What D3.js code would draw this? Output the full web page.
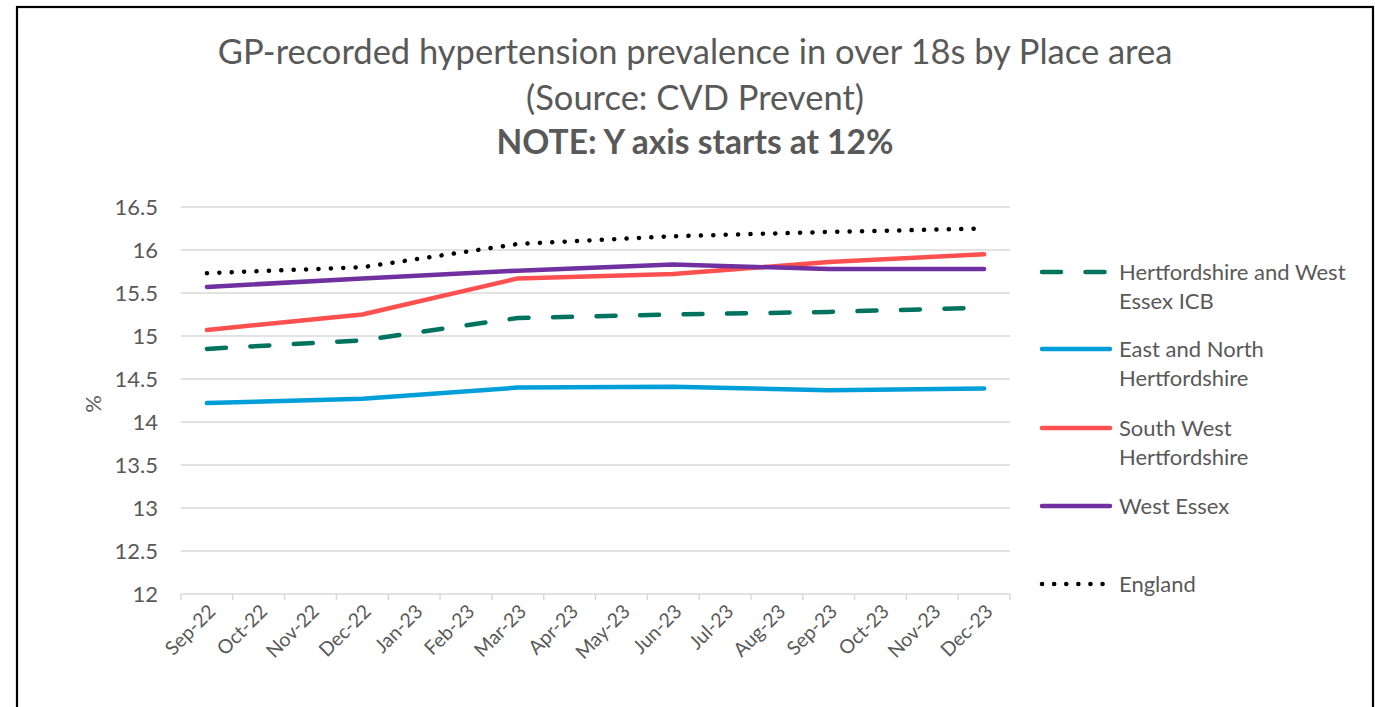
<!DOCTYPE html>
<html><head><meta charset="utf-8">
<script src="https://cdn.jsdelivr.net/npm/d3@7"></script>
<style>
html,body{margin:0;padding:0;background:#fff;}
svg{display:block;font-family:Lato,"Open Sans",sans-serif;}
</style></head>
<body>
<svg id="chart" width="1375" height="707"></svg>
<script>
const months = ["Sep-22","Oct-22","Nov-22","Dec-22","Jan-23","Feb-23","Mar-23","Apr-23","May-23","Jun-23","Jul-23","Aug-23","Sep-23","Oct-23","Nov-23","Dec-23"];
const dataMonths = ["Sep-22","Dec-22","Mar-23","Jun-23","Sep-23","Dec-23"];
const yTicks = [12,12.5,13,13.5,14,14.5,15,15.5,16,16.5];

const icb      = [14.85,14.95,15.21,15.25,15.28,15.33];
const eastNorth= [14.22,14.27,14.40,14.41,14.37,14.39];
const southWest= [15.07,15.25,15.67,15.72,15.86,15.95];
const westEssex= [15.57,15.67,15.76,15.83,15.78,15.78];
const england  = [15.73,15.80,16.07,16.16,16.21,16.25];

const seriesNames = ["Hertfordshire and West Essex ICB","East and North Hertfordshire","South West Hertfordshire","West Essex","England"];
const legendLines = [["Hertfordshire and West","Essex ICB"],["East and North","Hertfordshire"],["South West","Hertfordshire"],["West Essex"],["England"]];
const seriesValues = [icb,eastNorth,southWest,westEssex,england];
const seriesColors = ["#00735F","#009FDA","#FF5050","#7030A0","#000000"];

const styles = [
  {dash:"19,24.5", cap:"round"},
  {dash:null, cap:"round"},
  {dash:null, cap:"round"},
  {dash:null, cap:"round"},
  {dash:"0.1,12.3", cap:"round"}
];

const svg = d3.select("#chart");
const textCol = "#595959";

// border
svg.append("rect").attr("x",17).attr("y",7).attr("width",1356).attr("height",720)
  .attr("fill","none").attr("stroke","#000").attr("stroke-width",2.2);

const x = d3.scaleBand().domain(months).range([181,1010]).padding(0);
const y = d3.scaleLinear().domain([12,16.5]).range([594,207]);
const xc = m => x(m) + x.bandwidth()/2;

// gridlines
svg.append("g").selectAll("line").data(yTicks.filter(d=>d>12)).join("line")
  .attr("x1",181).attr("x2",1010).attr("y1",d=>y(d)).attr("y2",d=>y(d))
  .attr("stroke","#D9D9D9").attr("stroke-width",1.5);

// y axis labels
const yAxis = d3.axisLeft(y).tickValues(yTicks).tickSize(0).tickPadding(0).tickFormat(d=>String(d));
const gy = svg.append("g").attr("transform","translate(158,0)").call(yAxis);
gy.select(".domain").remove();
gy.selectAll("text").attr("fill",textCol).style("font-size","22px").style("font-family","Lato");

// x axis
const gx = svg.append("g").attr("transform","translate(0,594)");
gx.append("line").attr("x1",181).attr("x2",1010).attr("stroke","#D9D9D9").attr("stroke-width",1.5);
const boundaries = months.map(m=>x(m)).concat([1010]);
gx.selectAll("line.tick").data(boundaries).join("line").attr("class","tick")
  .attr("x1",d=>d).attr("x2",d=>d).attr("y1",0).attr("y2",6)
  .attr("stroke","#D9D9D9").attr("stroke-width",1.5);
gx.selectAll("text").data(months).join("text")
  .attr("transform",m=>`translate(${xc(m)+5},${14}) rotate(-45)`)
  .attr("text-anchor","end").attr("dy","0.35em")
  .attr("fill",textCol).style("font-size","19.5px").text(m=>m);

// y label
svg.append("text").attr("transform","translate(101,404) rotate(-90)")
  .attr("text-anchor","middle").attr("fill",textCol).style("font-size","22px").text("%");

// lines
const line = d3.line().x((d,i)=>xc(dataMonths[i])).y(d=>y(d));
seriesValues.forEach((vals,i)=>{
  svg.append("path").datum(vals).attr("d",line)
    .attr("fill","none").attr("stroke",seriesColors[i]).attr("stroke-width",4.5)
    .attr("stroke-linecap",styles[i].cap).attr("stroke-linejoin","round")
    .attr("stroke-dasharray",styles[i].dash);
});

// legend
const legY = [272,349,428,506,584];
legendLines.forEach((lines,i)=>{
  svg.append("line").attr("x1",1042).attr("x2",1110).attr("y1",legY[i]).attr("y2",legY[i])
    .attr("stroke",seriesColors[i]).attr("stroke-width",4.5)
    .attr("stroke-linecap","round").attr("stroke-dasharray",i===0?"19,24.5":(i===4?"0.1,12":null));
  lines.forEach((t,j)=>{
    svg.append("text").attr("x",1119).attr("y",legY[i]+j*29).attr("dy","0.35em")
      .attr("fill",textCol).style("font-size","22px").text(t);
  });
});

// titles
svg.append("text").attr("x",695).attr("y",52).attr("dy","0.35em").attr("text-anchor","middle")
  .attr("fill",textCol).style("font-size","34.5px").text("GP-recorded hypertension prevalence in over 18s by Place area");
svg.append("text").attr("x",695).attr("y",98).attr("dy","0.35em").attr("text-anchor","middle")
  .attr("fill",textCol).style("font-size","34.5px").text("(Source: CVD Prevent)");
svg.append("text").attr("x",695).attr("y",142).attr("dy","0.35em").attr("text-anchor","middle")
  .attr("fill",textCol).style("font-size","33.5px").style("font-weight","bold").text("NOTE: Y axis starts at 12%");
</script>
</body></html>
